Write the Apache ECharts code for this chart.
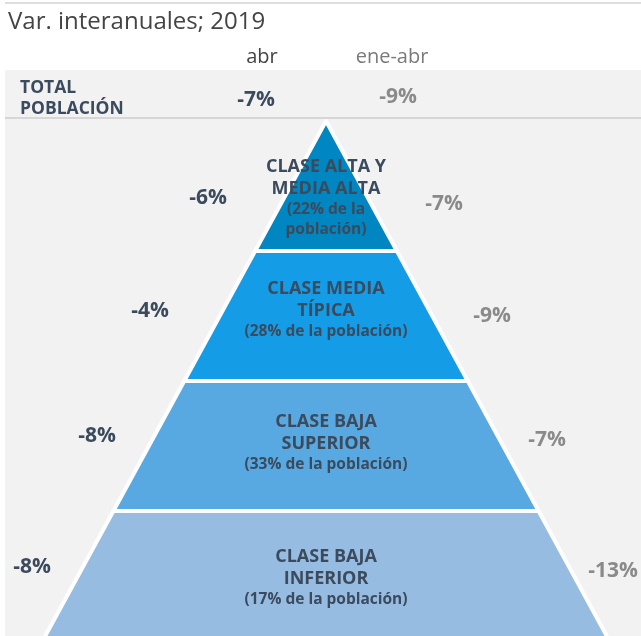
<!DOCTYPE html>
<html>
<head>
<meta charset="utf-8">
<title>Var. interanuales; 2019</title>
<script src="https://cdn.jsdelivr.net/npm/echarts@6/dist/echarts.min.js"></script>
<style>
  html, body { margin: 0; padding: 0; background: #fff; }
  #chart { width: 641px; height: 636px; }
</style>
</head>
<body>
<div id="chart"></div>
<script>
  // datos
  var clases = ['CLASE ALTA Y\nMEDIA ALTA', 'CLASE MEDIA\nTÍPICA', 'CLASE BAJA\nSUPERIOR', 'CLASE BAJA\nINFERIOR']
  var pesoPoblacion = [22, 28, 33, 17]
  var varAbr = [-6, -4, -8, -8]
  var varEneAbr = [-7, -9, -7, -13]
  var niveles = [1, 2, 3, 4] // escalones de la pirámide (ancho)
  var columnas = ['abr', 'ene-abr']
  var totalPoblacion = [-7, -9]

  var colores = ['#0086c0', '#149ce6', '#58a8e1', '#96bce2']
  var oscuro = '#3b4a5c'
  var gris = '#8a8a8a'
  var fuente = '"Open Sans", "Noto Sans", sans-serif'

  // posiciones de las cifras laterales y ajuste vertical de las etiquetas
  var posIzq = [[208, 198], [150, 311], [97, 436], [32, 567]]
  var posDer = [[444, 204], [492, 316], [547, 440], [613, 571]]
  var ajusteEtiqueta = [12, -6, -3, 2]

  var piramide = {
    left: 42.5,
    top: 121,
    width: 567,
    height: 520,
    min: 0,
    max: 4,
    minSize: '0%',
    maxSize: '100%',
    sort: 'ascending',
    gap: 0
  }

  function pct (v) { return v + '%' }

  function serieLateral (valores, pos, color) {
    return Object.assign({
      type: 'funnel',
      silent: true,
      z: 3,
      itemStyle: { color: 'rgba(0,0,0,0)', borderWidth: 0 },
      label: {
        show: true,
        position: 'inside',
        color: color,
        fontFamily: fuente,
        fontWeight: 'bold',
        fontSize: 21,
        formatter: function (p) { return pct(valores[p.dataIndex]) }
      },
      labelLine: { show: false },
      labelLayout: function (p) {
        return { x: pos[p.dataIndex][0], y: pos[p.dataIndex][1], align: 'center', verticalAlign: 'middle' }
      },
      emphasis: { disabled: true },
      data: niveles.map(function (v, i) { return { value: v, name: clases[i] } })
    }, piramide)
  }

  var option = {
    animation: false,
    graphic: [
      { type: 'rect', z: -10, shape: { x: 5, y: 70, width: 636, height: 566 }, style: { fill: '#f2f2f2' } },
      { type: 'line', z: -5, shape: { x1: 5, y1: 3, x2: 641, y2: 3 }, style: { stroke: '#dedede', lineWidth: 2 } },
      { type: 'line', z: -5, shape: { x1: 5, y1: 118, x2: 641, y2: 118 }, style: { stroke: '#d6d6d6', lineWidth: 2 } },
      { type: 'text', x: 8, y: 22, style: { text: 'Var. interanuales; 2019', fill: '#444', font: '24px ' + fuente, verticalAlign: 'middle' } },
      { type: 'text', x: 262, y: 57, style: { text: columnas[0], fill: '#444', font: '20px ' + fuente, align: 'center', verticalAlign: 'middle' } },
      { type: 'text', x: 392, y: 57, style: { text: columnas[1], fill: '#7a7a7a', font: '20px ' + fuente, align: 'center', verticalAlign: 'middle' } },
      { type: 'text', x: 20, y: 98.5, style: { text: 'TOTAL\nPOBLACIÓN', fill: oscuro, font: 'bold 17.5px ' + fuente, lineHeight: 21, verticalAlign: 'middle' } },
      { type: 'text', x: 256, y: 100, style: { text: pct(totalPoblacion[0]), fill: oscuro, font: 'bold 21px ' + fuente, align: 'center', verticalAlign: 'middle' } },
      { type: 'text', x: 398, y: 97, style: { text: pct(totalPoblacion[1]), fill: gris, font: 'bold 21px ' + fuente, align: 'center', verticalAlign: 'middle' } }
    ],
    series: [
      Object.assign({
        type: 'funnel',
        z: 2,
        itemStyle: { borderColor: '#fff', borderWidth: 4 },
        label: {
          show: true,
          position: 'inside',
          color: oscuro,
          fontFamily: fuente,
          fontWeight: 'bold',
          formatter: function (p) {
            var i = p.dataIndex
            var lineas = clases[i].split('\n').map(function (l) { return '{t|' + l + '}' })
            if (i === 0) {
              lineas.push('{s|(' + pesoPoblacion[i] + '% de la}', '{s|población)}')
            } else {
              lineas.push('{s|(' + pesoPoblacion[i] + '% de la población)}')
            }
            return lineas.join('\n')
          },
          rich: {
            t: { color: oscuro, fontFamily: fuente, fontWeight: 'bold', fontSize: 18, lineHeight: 22 },
            s: { color: oscuro, fontFamily: fuente, fontWeight: 'bold', fontSize: 15.5, lineHeight: 20 }
          }
        },
        labelLine: { show: false },
        labelLayout: function (p) {
          return { dy: ajusteEtiqueta[p.dataIndex] }
        },
        emphasis: { disabled: true },
        data: niveles.map(function (v, i) {
          return { value: v, name: clases[i], itemStyle: { color: colores[i] } }
        })
      }, piramide),
      serieLateral(varAbr, posIzq, oscuro),
      serieLateral(varEneAbr, posDer, gris)
    ]
  }

  var chart = echarts.init(document.getElementById('chart'))
  chart.setOption(option)
</script>
</body>
</html>
